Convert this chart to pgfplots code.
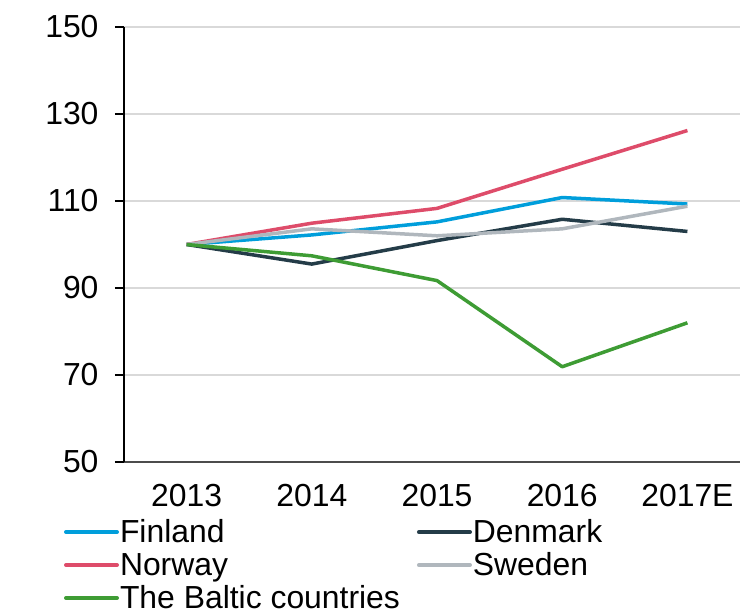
\documentclass[border=0pt]{standalone}
\usepackage{pgfplots}
\pgfplotsset{compat=1.18}
\usepackage{fontspec}
\setmainfont{Liberation Sans}
\definecolor{cFin}{RGB}{0,158,219}
\definecolor{cDen}{RGB}{36,60,72}
\definecolor{cNor}{RGB}{222,76,106}
\definecolor{cSwe}{RGB}{176,183,189}
\definecolor{cBal}{RGB}{62,156,52}
\begin{document}
\begin{tikzpicture}
\path[use as bounding box] (-124bp,-148bp) rectangle (616bp,462bp);
\begin{axis}[
  at={(0,0)}, anchor=south west,
  scale only axis, width=616bp, height=435bp,
  xmin=-0.5, xmax=4.42, ymin=50, ymax=150,
  axis x line*=bottom, axis y line*=left,
  xtick={0,1,2,3,4},
  xticklabels={2013,2014,2015,2016,2017E},
  x tick style={draw=none},
  minor xtick={-0.5,0.5,1.5,2.5,3.5},
  ytick={50,70,90,110,130,150},
  tick align=outside, major tick length=9bp, minor tick length=9bp,
  y tick style={black, line width=1.2bp},
  minor x tick style={black!70, line width=1.2bp},
  x axis line style={black!70, line width=1.2bp},
  y axis line style={black, line width=1.2bp},
  ymajorgrids, major grid style={black!15, line width=1.5bp},
  /pgf/number format/assume math mode=true,
  every tick label/.append style={font=\fontsize{32}{36}\selectfont},
  yticklabel style={xshift=-13bp},
  xticklabel style={yshift=-10bp},
  legend columns=2,
  legend cell align=left,
  legend style={draw=none, fill=none, inner sep=0pt, outer sep=0pt,
    at={(-0.0974,-0.1300)}, anchor=north west,
    font=\fontsize{32}{36}\selectfont,
    nodes={text height=23bp, text depth=2bp, inner sep=1bp},
    row sep=6bp,
    /tikz/every even column/.append style={column sep=16bp}},
  legend image code/.code={\draw[#1, line width=4bp, line cap=round] (0bp,0bp) -- (51bp,0bp);},
  every axis plot/.append style={line width=3.5bp, line join=round},
]
\addplot[cFin] coordinates {(0,100) (1,102.2) (2,105.2) (3,110.8) (4,109.3)};
\addlegendentry{Finland}
\addplot[cDen] coordinates {(0,100) (1,95.5) (2,100.9) (3,105.8) (4,103.0)};
\addlegendentry{Denmark}
\addplot[cNor] coordinates {(0,100) (1,104.9) (2,108.3) (3,117.3) (4,126.2)};
\addlegendentry{Norway}
\addplot[cSwe] coordinates {(0,100) (1,103.6) (2,102.0) (3,103.6) (4,108.8)};
\addlegendentry{Sweden}
\addplot[cBal] coordinates {(0,100) (1,97.4) (2,91.7) (3,71.9) (4,82.0)};
\addlegendentry{The Baltic countries}
\end{axis}
\end{tikzpicture}
\end{document}
